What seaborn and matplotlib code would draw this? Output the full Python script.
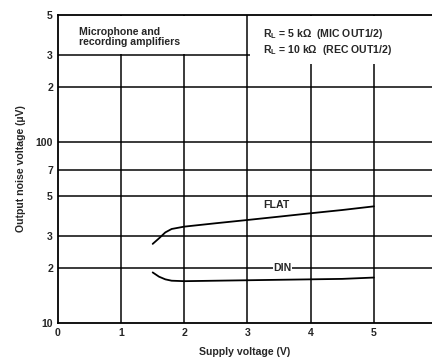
import numpy as np
import pandas as pd
import matplotlib
matplotlib.use("Agg")
import matplotlib.pyplot as plt
from matplotlib.patches import Rectangle
from matplotlib.ticker import FixedLocator, FixedFormatter, NullLocator
import seaborn as sns

# Supply voltage (V) and output noise voltage (uV) for the two weightings
flat_v = [1.5, 1.6, 1.7, 1.8, 2.0, 2.5, 3.0, 3.5, 4.0, 4.5, 5.0]
flat_uv = [27.3, 29.3, 31.6, 33.0, 34.0, 35.5, 37.0, 38.6, 40.3, 42.0, 44.0]
din_v = [1.5, 1.6, 1.7, 1.8, 2.0, 2.5, 3.0, 3.5, 4.0, 4.5, 5.0]
din_uv = [19.0, 18.0, 17.4, 17.1, 17.0, 17.1, 17.2, 17.3, 17.4, 17.5, 17.8]

x_ticks = [0, 1, 2, 3, 4, 5]
y_ticks = [10, 20, 30, 50, 70, 100, 200, 300, 500]
y_tick_labels = ["10", "2", "3", "5", "7", "100", "2", "3", "5"]

df = pd.concat([
    pd.DataFrame({"Supply voltage (V)": flat_v, "noise": flat_uv, "curve": "FLAT"}),
    pd.DataFrame({"Supply voltage (V)": din_v, "noise": din_uv, "curve": "DIN"}),
])

sns.set_style("white")
plt.rcParams["font.family"] = ["Liberation Sans", "DejaVu Sans"]
plt.rcParams["font.weight"] = "bold"

fig = plt.figure(figsize=(6, 5), dpi=72)
ax = fig.add_axes([0.134, 0.103, 0.866, 0.855])

sns.lineplot(data=df, x="Supply voltage (V)", y="noise", hue="curve",
             palette={"FLAT": "black", "DIN": "black"}, linewidth=1.8,
             legend=False, ax=ax, sort=False, zorder=4)

ax.set_yscale("log")
ax.set_ylim(10, 500)
ax.set_xlim(0, 5.92)

ax.yaxis.set_major_locator(FixedLocator(y_ticks))
ax.yaxis.set_major_formatter(FixedFormatter(y_tick_labels))
ax.yaxis.set_minor_locator(NullLocator())
ax.set_xticks(x_ticks)
ax.set_xticklabels([str(t) for t in x_ticks])

for v in x_ticks[1:]:
    ax.axvline(v, color="black", lw=1.5, zorder=1)
for v in y_ticks[1:-1]:
    ax.axhline(v, color="black", lw=1.5, zorder=1)

# blank panels behind the two header notes
ax.add_patch(Rectangle((0.02, 305), 2.95, 190, facecolor="white",
                       edgecolor="none", zorder=2))
ax.add_patch(Rectangle((3.04, 268), 2.9, 228, facecolor="white",
                       edgecolor="none", zorder=2))

for side in ("left", "bottom", "top"):
    ax.spines[side].set_color("black")
    ax.spines[side].set_linewidth(1.8)
    ax.spines[side].set_zorder(5)
ax.spines["right"].set_visible(False)

ax.tick_params(axis="both", length=0, labelsize=10.5, pad=5)
for lab in ax.get_xticklabels() + ax.get_yticklabels():
    lab.set_fontweight("bold")

ax.set_xlabel("Supply voltage (V)", fontsize=10.5, fontweight="bold", labelpad=9)
ax.set_ylabel("Output noise voltage (\u00b5V)", fontsize=10.5, fontweight="bold", labelpad=9)

ax.text(0.33, 430, "Microphone and\nrecording amplifiers", fontsize=10.5,
        fontweight="bold", va="top", ha="left", linespacing=1.0, zorder=6)
ax.text(3.25, 430, "R$_\\mathregular{L}$ = 5 k\u03a9  (MIC OUT1/2)\n"
        "R$_\\mathregular{L}$ = 10 k\u03a9  (REC OUT1/2)", fontsize=10.5,
        fontweight="bold", va="top", ha="left", linespacing=1.2, zorder=6)

ax.text(3.45, 44.5, "FLAT", fontsize=10.5, fontweight="bold", ha="center",
        va="center", zorder=6)
ax.text(3.56, 20, "DIN", fontsize=10.5, fontweight="bold", ha="center",
        va="center", zorder=6,
        bbox=dict(facecolor="white", edgecolor="none", pad=0.3))

fig.savefig("out.png", dpi=72, facecolor="white")
